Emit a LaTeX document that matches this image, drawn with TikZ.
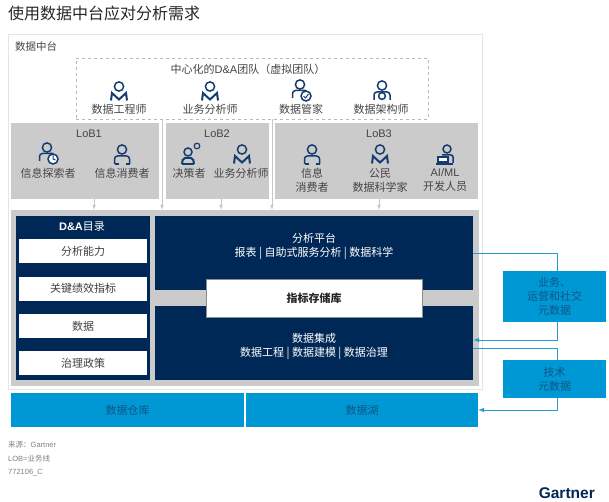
\documentclass[tikz,border=0pt]{standalone}
\usepackage{fontspec}
\setmainfont{Noto Sans CJK SC}
\newfontfamily\latfont{Liberation Sans}
\newcommand{\lat}[1]{{\latfont #1}}
\definecolor{navy}{HTML}{002856}
\definecolor{iconblue}{HTML}{143C70}
\definecolor{sky}{HTML}{0098D4}
\definecolor{skyline}{HTML}{2A9CCB}
\definecolor{skytext}{HTML}{0F5585}
\definecolor{lobgrey}{HTML}{CBCBCB}
\definecolor{labelgrey}{HTML}{444444}
\tikzset{
	panel/.style={rectangle,inner sep=0pt,text=labelgrey},
	lobbox/.style={panel,fill=lobgrey},
	navybox/.style={panel,fill=navy},
	whitebox/.style={panel,fill=white,minimum width=128,minimum height=24,text=black!75,font=\fontsize{11}{12}\selectfont},
	skybox/.style={panel,fill=sky,text=skytext,align=center,font=\fontsize{11}{14}\selectfont},
	role/.style={text=labelgrey,inner sep=0pt,align=center,font=\fontsize{11}{14}\selectfont},
	onnavy/.style={text=white,inner sep=0pt,align=center,font=\fontsize{11}{14}\selectfont},
	note/.style={anchor=west,inner sep=0pt,text=black!50,font=\fontsize{7.5}{9}\selectfont},
	feed/.style={draw=black!22,line width=0.7pt,-latex},
	metaline/.style={draw=skyline,line width=1pt},
	icon/.style={draw=iconblue,line width=1.5pt},
	userhead/.pic={\draw[icon] (0,-4.5) circle (4.6);},
	plainuser/.pic={
		\pic {userhead};
		\draw[icon,rounded corners=3] (-7.5,10)--(-7.5,2)--(7.5,2)--(7.5,10);
		\draw[icon] (-7.5,10)--(-3.5,10) (3.5,10)--(7.5,10);
	},
	collaruser/.pic={
		\pic {userhead};
		\draw[icon,line width=2pt] (-8,9.5)--(-7,2)--(0,8.5)--(7,2)--(8,9.5);
	},
	badgeuser/.pic={
		\pic {userhead};
		\draw[icon,rounded corners=3] (-7.5,9)--(-7.5,1.5)--(6,1.5);
		\draw[icon,fill=white] (6,7) circle (5);
	},
	checkuser/.pic={
		\pic {badgeuser};
		\draw[icon,line width=1pt] (3.5,7)--(5.5,9)--(8.5,5);
	},
	clockuser/.pic={
		\pic {badgeuser};
		\draw[icon,line width=1pt] (6,3.5)--(6,7)--(8.5,8);
	},
	archuser/.pic={
		\pic {userhead};
		\draw[icon,rounded corners=3] (-8,10)--(-8,2)--(8,2)--(8,10);
		\draw[icon] (0,6) circle (3.4);
	},
	smalluser/.pic={
		\draw[icon] (-3,-3) circle (4);
		\draw[icon,line width=2pt,rounded corners=2] (-9,9)--(-8,3)--(2,3)--(3,9);
		\draw[icon] (-9,9)--(3,9);
		\draw[icon,line width=1.2pt] (6,-9) circle (2.8);
	},
	devuser/.pic={
		\draw[icon] (2,-5) circle (4);
		\draw[icon,rounded corners=2] (-3,1)--(8,1)--(8,9);
		\draw[icon,fill=white] (-7,3) rectangle (3,8);
		\draw[icon] (-9,10)--(8,10);
	},
}
\begin{document}
\begin{tikzpicture}[x=1pt,y=-1pt]
	\useasboundingbox (0,0) rectangle (609,502);
	\node[anchor=west,inner sep=0pt,text=black!85,font=\fontsize{16}{18}\selectfont] (title) at (8,13) {使用数据中台应对分析需求};
	% frame and team
	\node[panel,draw=black!10,line width=0.9pt,minimum width=474,minimum height=355] (frame) at (245,211.5) {};
	\node[anchor=west,inner sep=0pt,text=labelgrey,font=\fontsize{10.5}{12}\selectfont] (frametitle) at (15,47) {数据中台};
	\node[panel,draw=black!28,dashed,line width=0.5pt,minimum width=352,minimum height=61] (team) at (252,88.5) {};
	\node[role] (teamtitle) at (248,69) {中心化的\lat{D\&A}团队（虚拟团队）};
	\pic at (119,91) {collaruser};
	\pic at (210,91) {collaruser};
	\pic at (300,89) {checkuser};
	\pic at (382,90) {archuser};
	\node[role] (engineer) at (119,109) {数据工程师};
	\node[role] (analyst) at (210,109) {业务分析师};
	\node[role] (steward) at (301,109) {数据管家};
	\node[role] (architect) at (381,109) {数据架构师};
	% lines of business
	\node[lobbox,minimum width=148,minimum height=76] (lob1) at (85,161) {};
	\node[lobbox,minimum width=103,minimum height=76] (lob2) at (217.5,161) {};
	\node[lobbox,minimum width=203,minimum height=76] (lob3) at (376.5,161) {};
	\node[role,font=\latfont\fontsize{11}{13}\selectfont] (lob1title) at (89,134) {LoB1};
	\node[role,font=\latfont\fontsize{11}{13}\selectfont] (lob2title) at (217,134) {LoB2};
	\node[role,font=\latfont\fontsize{11}{13}\selectfont] (lob3title) at (379,134) {LoB3};
	\pic at (47,152) {clockuser};
	\pic at (122,154) {plainuser};
	\pic at (191,155) {smalluser};
	\pic at (242,154) {collaruser};
	\pic at (312,154) {plainuser};
	\pic at (380,154) {collaruser};
	\pic at (445,154) {devuser};
	\node[role] (explorer) at (48,173) {信息探索者};
	\node[role] (consumer) at (122,173) {信息消费者};
	\node[role] (decider) at (189,173) {决策者};
	\node[role] (lobanalyst) at (241,173) {业务分析师};
	\node[role] (lobconsumer) at (312,180) {信息\\消费者};
	\node[role] (citizen) at (380,180) {公民\\数据科学家};
	\node[role] (developer) at (445,180) {\lat{AI/ML}\\开发人员};
	% core
	\node[lobbox,minimum width=468,minimum height=176] (core) at (245,298) {};
	\node[navybox,minimum width=134,minimum height=164] (catalog) at (83,298) {};
	\node[onnavy,font=\latfont\bfseries\fontsize{11}{12}\selectfont] (catalogtitle) at (82,227) {D\&A{\rmfamily\mdseries 目录}};
	\node[whitebox] (capability) at (83,251) {分析能力};
	\node[whitebox] (kpi) at (83,288.5) {关键绩效指标};
	\node[whitebox] (data) at (83,326) {数据};
	\node[whitebox] (policy) at (83,363) {治理政策};
	\node[navybox,minimum width=318,minimum height=74] (platform) at (314,253) {};
	\node[navybox,minimum width=318,minimum height=74] (integration) at (314,343) {};
	\node[panel,fill=white,draw=black!45,line width=0.5pt,minimum width=216,minimum height=38,text=black!85,font=\bfseries\fontsize{11}{12}\selectfont] (metrics) at (314,298) {指标存储库};
	\node[onnavy] (platformtext) at (314,246) {分析平台\\报表 | 自助式服务分析 | 数据科学};
	\node[onnavy] (integrationtext) at (314,346) {数据集成\\数据工程 | 数据建模 | 数据治理};
	% storage and metadata
	\node[skybox,minimum width=233,minimum height=34] (warehouse) at (127.5,410) {数据仓库};
	\node[skybox,minimum width=232,minimum height=34] (lake) at (362,410) {数据湖};
	\node[skybox,minimum width=103,minimum height=51] (bizmeta) at (554.5,296.5) {业务、\\运营和社交\\元数据};
	\node[skybox,minimum width=103,minimum height=38] (techmeta) at (554.5,379) {技术\\元数据};
	% connectors
	\draw[feed] ([xshift=9]lob1.south) -- ([xshift=9]lob1.south |- core.north);
	\draw[feed] ([xshift=3.5]lob2.south) -- ([xshift=3.5]lob2.south |- core.north);
	\draw[feed] ([xshift=2.5]lob3.south) -- ([xshift=2.5]lob3.south |- core.north);
	\draw[feed] ([xshift=-90]team.south) -- ([xshift=-90]team.south |- core.north);
	\draw[feed] ([xshift=20]team.south) -- ([xshift=20]team.south |- core.north);
	\draw[metaline] (platform.east) -| ([xshift=2.5]bizmeta.north);
	\draw[metaline,-latex] ([xshift=2.5]bizmeta.south) |- ([yshift=3]integration.east);
	\draw[metaline] ([xshift=2.5]techmeta.north) |- ([yshift=-5]integration.east);
	\draw[metaline,-latex] ([xshift=2.5]techmeta.south) |- (lake.east);
	% notes
	\node[note] (source) at (8,445) {来源：\lat{Gartner}};
	\node[note] (lobnote) at (8,459) {\lat{LOB=}业务线};
	\node[note] (docid) at (8,473) {\lat{772106\_C}};
	\node[anchor=east,inner sep=0pt,text=navy,font=\latfont\bfseries\fontsize{15.5}{16}\selectfont] (logo) at (595,493) {Gartner};
\end{tikzpicture}
\end{document}
